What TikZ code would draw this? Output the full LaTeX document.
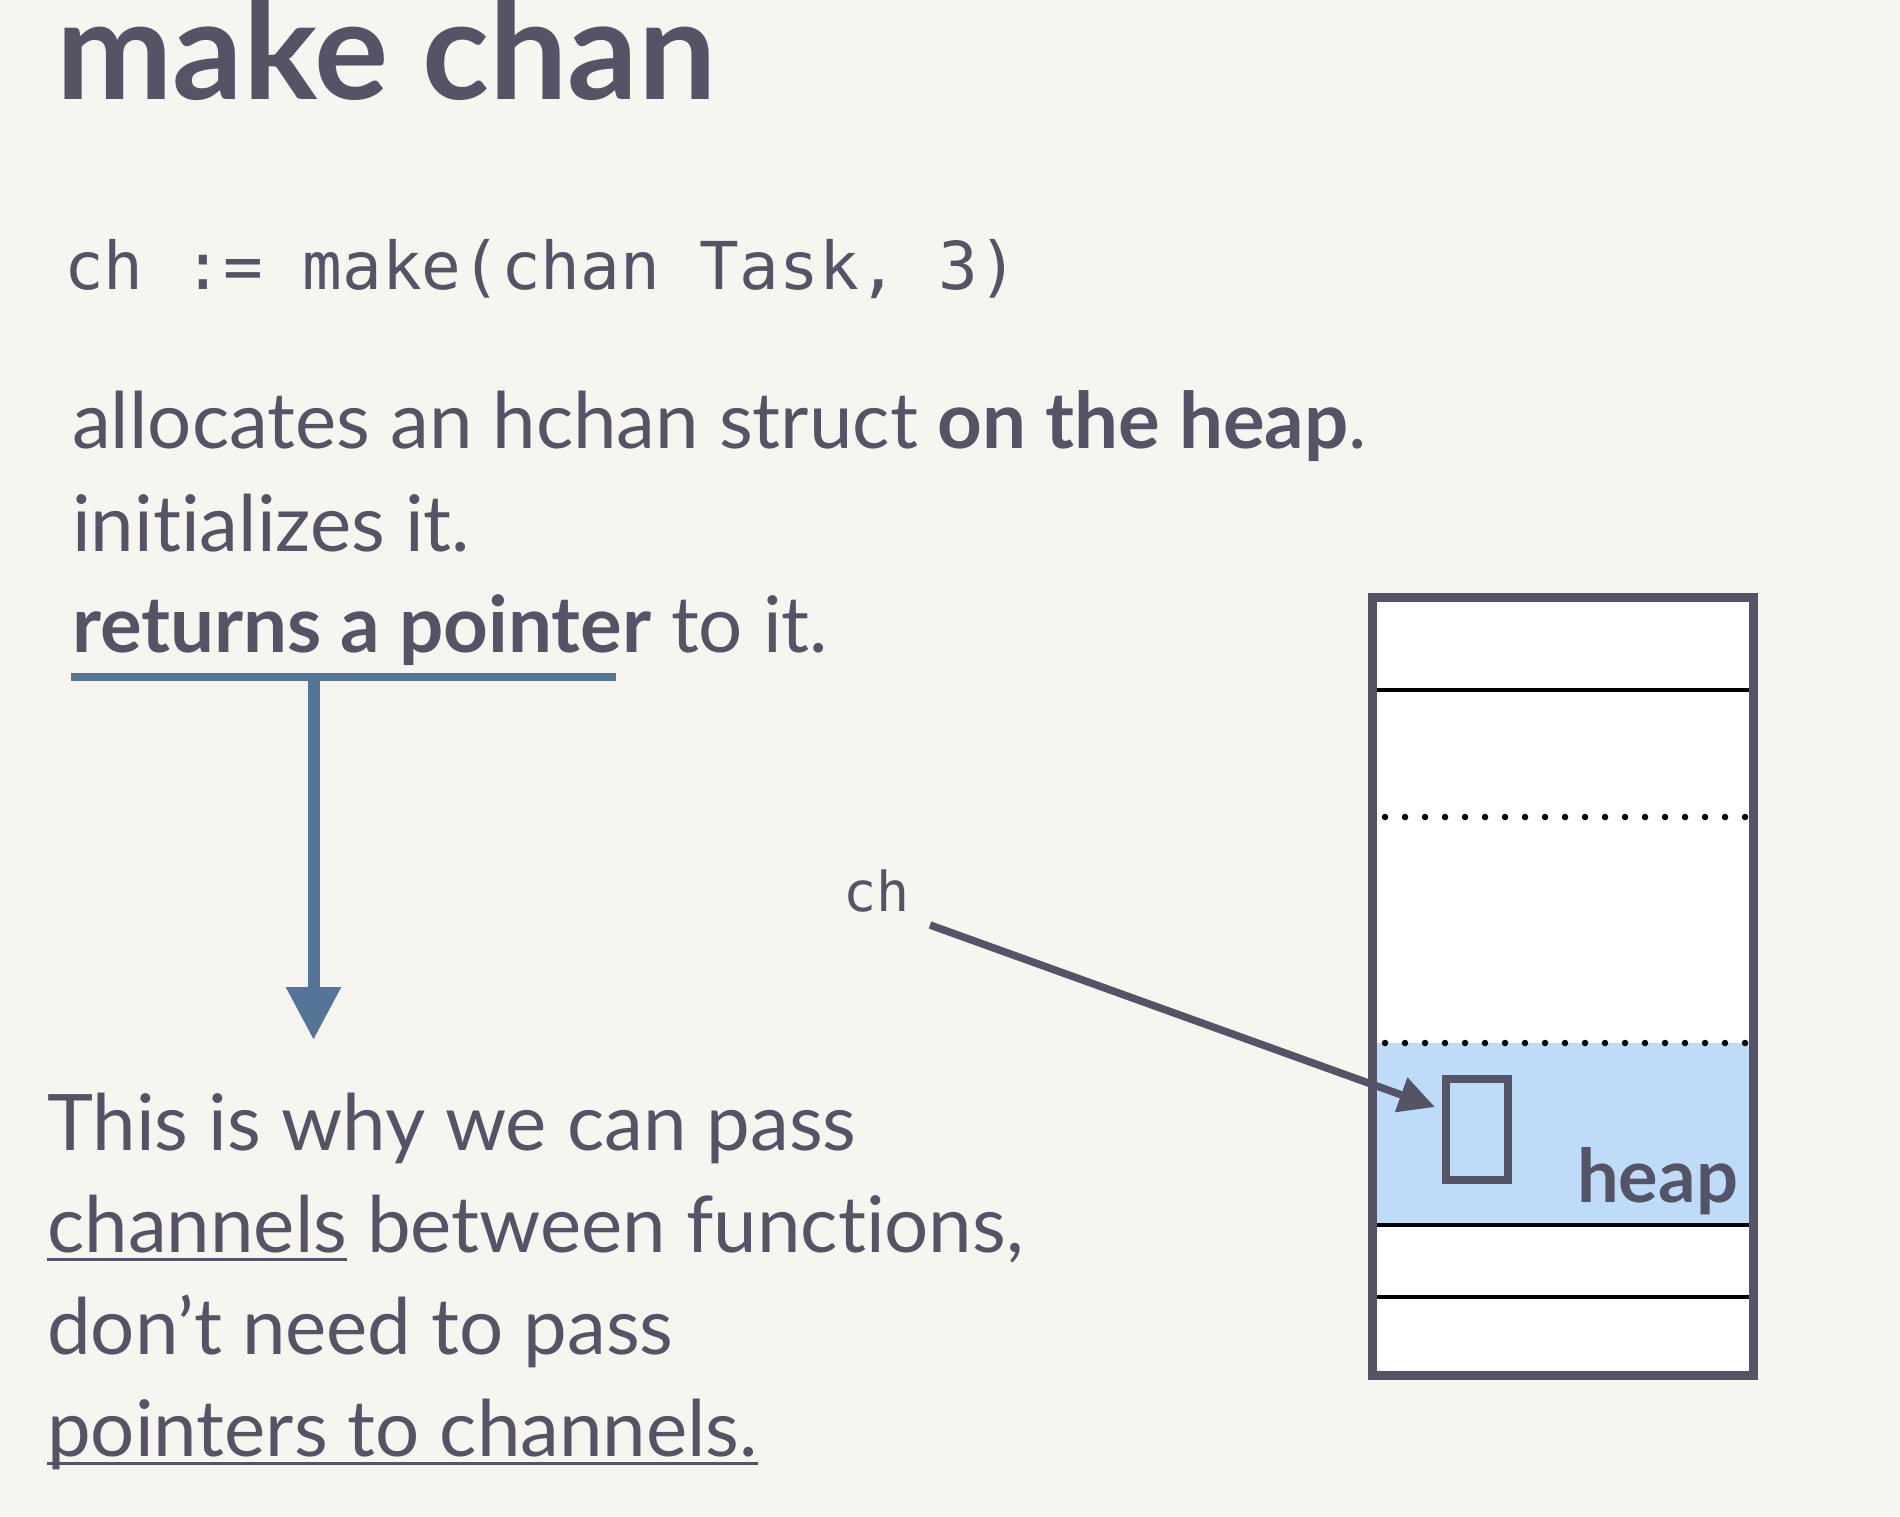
\documentclass[tikz,border=0pt]{standalone}
\usepackage{fontspec}
\setmainfont{Lato}[Ligatures=NoCommon]
\newfontfamily\codefont{DejaVu Sans Mono}
\usetikzlibrary{arrows.meta}
\definecolor{bgc}{RGB}{247,245,240}
\definecolor{txtc}{RGB}{84,84,102}
\definecolor{bluec}{RGB}{84,116,152}
\definecolor{heapc}{RGB}{190,220,248}
\newcommand{\myul}[1]{\setbox0\hbox{#1}\rlap{\rule[-8.5pt]{\wd0}{3pt}}\box0{}}
\tikzset{
  txt/.style={anchor=base west, inner sep=0pt, text=txtc, font=\fontsize{78}{86}\selectfont},
  codetxt/.style={anchor=base west, inner sep=0pt, text=txtc, font=\codefont\fontsize{66}{72}\selectfont},
  titletxt/.style={anchor=base west, inner sep=0pt, text=txtc, font=\bfseries\fontsize{139}{146}\selectfont},
  solidline/.style={black, line width=3.5pt},
  dotline/.style={black, line width=6.5pt, line cap=round, dash pattern=on 0pt off 20pt},
}
\begin{document}
\begin{tikzpicture}[x=1pt, y=-1pt]
\useasboundingbox (0,0) rectangle (1900,1516);
\fill[bgc] (0,0) rectangle (1900,1516);

% title and code
\node[titletxt] (title) at (56,99) {make chan};
\node[codetxt] (code) at (64,289) {ch := make(chan Task, 3)};

% description
\node[txt] (l1) at (72,448) {allocates an hchan struct \textbf{on the heap}.};
\node[txt] (l2) at (72,551) {initializes it.};
\node[txt] (l3) at (72,652) {\textbf{returns a pointer} to it.};

% blue underline and arrow
\coordinate (ulL) at (71,677);
\coordinate (ulR) at (616,677);
\coordinate (ulM) at (313.5,677);
\coordinate (downtip) at (313.5,1040);
\draw[bluec, line width=8pt] (ulL) -- (ulR);
\draw[bluec, line width=12pt, -{Triangle[length=53pt,width=52pt]}] (ulM) -- (downtip);

% lower text
\node[txt] (m1) at (47,1150) {This is why we can pass};
\node[txt] (m2) at (47,1252) {\myul{channels} between functions,};
\node[txt] (m3) at (47,1354) {don’t need to pass};
\node[txt] (m4) at (47,1456) {\myul{pointers to channels.}};

% memory column
\fill[white] (1372.5,597) rectangle (1753.5,1375);
\fill[heapc] (1375,1043) rectangle (1752,1223);
\draw[solidline] (1368,690) -- (1758,690);
\draw[solidline] (1368,1225) -- (1758,1225);
\draw[solidline] (1368,1297) -- (1758,1297);
\draw[dotline] (1385,817) -- (1750,817);
\draw[dotline] (1385,1043) -- (1750,1043);
\draw[txtc, line width=9pt] (1372.5,597) rectangle (1753.5,1375);

\node[draw=txtc, line width=8pt, minimum width=62pt, minimum height=101pt, inner sep=0pt] (cell) at (1477,1129.5) {};
\node[anchor=base west, inner sep=0pt, text=txtc, font=\bfseries\fontsize{74}{80}\selectfont] (heaplbl) at (1577,1202) {heap};

% ch pointer
\node[anchor=base west, inner sep=0pt, text=txtc, font=\codefont\fontsize{55}{60}\selectfont] (chl) at (843,911) {ch};
\coordinate (chstart) at (930,925);
\coordinate (chend) at (1435,1107);
\draw[txtc, line width=7.5pt, -{Triangle[length=36pt,width=35pt]}] (chstart) -- (chend);
\end{tikzpicture}
\end{document}
